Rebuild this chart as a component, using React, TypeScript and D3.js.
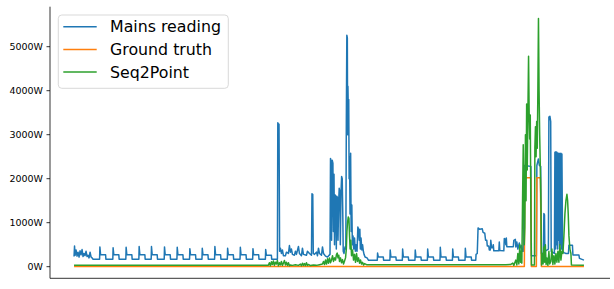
import { useEffect, useRef } from "react";
import * as d3 from "d3";

type Pt = [number, number]; // [sample, watts]

// ── Data ───────────────────────────────────────────────────────────────────

const yTicks = [0, 1000, 2000, 3000, 4000, 5000];
const seriesNames = ["Mains reading", "Ground truth", "Seq2Point"];
const seriesColors = ["#1f77b4", "#ff7f0e", "#2ca02c"];

const mains: Pt[] = [
  [0, 230], [0.5, 470], [1, 260], [2, 380], [3, 240], [4, 330], [5, 220], [6, 360],
  [7, 270], [8, 390], [9, 230], [10, 300], [11, 250], [12, 350], [13, 230], [14, 260],
  [15, 200], [16, 330], [17, 220], [18, 200], [19, 170], [25.5, 170],
  [25.8, 450], [26.5, 270], [31.5, 270], [31.8, 170], [38.7, 170],
  [39, 430], [39.7, 270], [44.7, 270], [45, 170], [51.7, 170],
  [52, 440], [52.7, 270], [57.7, 270], [58, 170], [64.7, 170],
  [65, 460], [65.7, 270], [70.7, 270], [71, 170], [77, 170],
  [77.3, 460], [78, 270], [83, 270], [83.3, 170], [90, 170],
  [90.3, 450], [91, 270], [96, 270], [96.3, 170], [102.7, 170],
  [103, 440], [103.7, 270], [108.7, 270], [109, 170], [115.3, 170],
  [115.6, 410], [116.3, 270], [121.3, 270], [121.6, 170], [127.7, 170],
  [128, 420], [128.7, 270], [133.7, 270], [134, 170], [140.3, 170],
  [140.6, 460], [141.3, 270], [146.3, 270], [146.6, 170], [153, 170],
  [153.3, 420], [154, 270], [159, 270], [159.3, 170], [165.7, 170],
  [166, 440], [166.7, 270], [171.7, 270], [172, 170], [178.3, 170],
  [178.6, 410], [179.3, 270], [184.3, 270], [184.6, 170], [191, 170],
  [191.3, 390], [192, 260], [197, 260], [197.3, 170], [203, 170],
  [203.4, 3270], [204.2, 3200], [204.6, 3240], [205.2, 350],
  [206, 420], [207, 300], [208, 380], [209, 250], [211, 250], [212, 330], [214, 300],
  [215, 480], [216, 330], [217, 400], [218, 280], [220, 260], [221, 350], [222, 280],
  [224, 460], [225, 300], [227, 250], [228, 420], [229, 280], [232, 260], [233, 350],
  [235, 300], [237, 260], [237.5, 1660], [238.3, 1640], [238.8, 300], [240, 280],
  [242, 330], [243, 250], [244, 420], [245, 300], [247, 260], [248, 450], [249, 300],
  [251, 240], [253, 220], [255.5, 280],
  [256, 2460], [256.6, 2380], [257.1, 600], [257.7, 2420], [258.4, 2350], [258.9, 800],
  [259.5, 2100], [260, 500], [260.6, 1630], [261.3, 1600], [261.8, 400], [262.4, 1600],
  [263, 1560], [263.5, 600], [264.1, 1450], [264.7, 1780], [265.3, 1700], [265.8, 500],
  [266.5, 1700], [267.1, 2050], [267.7, 2000], [268.2, 1300], [268.7, 350], [269.5, 300],
  [270.5, 450], [271.3, 400], [271.8, 3300], [272.3, 5260], [272.8, 5200], [273.1, 3000],
  [273.4, 4100], [273.8, 3500], [274.2, 3800], [274.6, 2000], [275, 2500], [275.5, 1200],
  [276.1, 2580], [276.6, 800], [277.3, 1400], [277.8, 500], [278.5, 700], [279.1, 400],
  [280, 650], [280.8, 350], [281.5, 500], [282.5, 350], [283.3, 900], [284, 850],
  [284.7, 600], [285.3, 850], [285.8, 400], [286.5, 650], [287.3, 380], [288, 500],
  [288.8, 350], [289.5, 280], [290.5, 220], [292.5, 200], [294, 145], [302.7, 145],
  [303, 310], [303.7, 220], [308.7, 220], [309, 145], [315.3, 145],
  [315.6, 380], [316.3, 220], [321.3, 220], [321.6, 145], [327.7, 145],
  [328, 400], [328.7, 220], [333.7, 220], [334, 145], [340.3, 145],
  [340.6, 380], [341.3, 220], [346.3, 220], [346.6, 145], [352.7, 145],
  [353, 400], [353.7, 220], [358.7, 220], [359, 145], [365.3, 145],
  [365.6, 440], [366.3, 220], [371.3, 220], [371.6, 145], [377.7, 145],
  [378, 400], [378.7, 220], [383.7, 220], [384, 145], [390.3, 145],
  [390.6, 420], [391.3, 220], [396.5, 220], [396.8, 145], [401, 145],
  [401.3, 280], [402.5, 300], [403.3, 880], [405, 850], [407.5, 860], [408.3, 780],
  [410, 760], [410.8, 600], [412, 600], [412.5, 470], [414, 470], [414.5, 380],
  [415.5, 380], [416, 600], [416.8, 430], [418, 430], [418.5, 500], [419, 360],
  [424, 360], [424.5, 560], [425, 370], [429, 360], [429.5, 640], [430.5, 620],
  [431, 500], [431.5, 650], [432, 455], [438.5, 455], [439, 600], [440.5, 620],
  [441, 450], [442, 560], [443, 400], [444.5, 540], [445, 420], [446.5, 480],
  [447.3, 350], [448.5, 350], [449.3, 2300], [456, 2280], [456.5, 250], [461.5, 250],
  [462, 2300], [463.5, 2450], [464.5, 2300], [465.8, 2280], [466.5, 300], [468.5, 300],
  [469, 1210], [469.6, 1180], [470, 350], [473.5, 400], [474, 3400], [475, 3420],
  [475.8, 3300], [476.3, 350], [479.5, 300], [480, 2600], [480.5, 400], [481, 2610],
  [481.5, 500], [482, 2600], [482.5, 400], [483, 2580], [483.5, 600], [484, 2580],
  [484.5, 400], [485, 2570], [485.5, 500], [486, 2580], [486.5, 400], [487, 2560],
  [487.7, 350], [489, 320], [491, 300], [493.5, 300], [494, 490], [497.5, 490],
  [498, 265], [504, 265], [504.5, 190], [509, 150],
];

const groundTruth: Pt[] = [
  [0, 5], [449.5, 5], [450, 2020], [456, 2020], [456.5, 5], [461.5, 5],
  [462, 2020], [465.5, 2020], [466.5, 5], [509, 5],
];

const seq2point: Pt[] = [
  [0, 35], [194, 35], [195, 90], [196, 20], [197, 110], [198, 50], [199, 130],
  [200, 30], [201, 100], [202, 60], [203, 140], [204, 20], [205, 90], [206, 40],
  [207, 120], [208, 30], [209, 80], [210, 140], [211, 40], [212, 100], [213, 30],
  [214, 90], [215, 20], [216, 40], [218, 30], [221, 45], [224, 30], [226, 60],
  [227, 20], [228, 80], [229, 30], [230, 70], [231, 25], [232, 90], [233, 30],
  [234, 50], [236, 25], [239, 40], [242, 30], [245, 45], [248, 60], [249, 120],
  [250, 50], [251, 150], [252, 60], [253, 180], [254, 80], [255, 200], [256, 90],
  [257, 150], [258, 250], [259, 120], [260, 200], [261, 150], [262, 280],
  [262.7, 310], [263.5, 200], [264.3, 260], [265, 120], [266, 200], [267, 90],
  [268, 160], [269, 60], [270, 130], [271, 200], [271.8, 400], [272.4, 800],
  [273, 1000], [273.7, 1130], [274.4, 1100], [275, 700], [275.6, 400], [276.3, 600],
  [277, 250], [278, 380], [279, 150], [280, 280], [281, 100], [282, 300], [283, 120],
  [284, 200], [285, 80], [286, 150], [287, 60], [288, 100], [289, 40], [290, 70],
  [292, 45], [431, 45], [436, 50], [438, 80], [439, 30], [441, 150], [442, 40],
  [443, 300], [444, 60], [445, 500], [445.7, 100], [446.3, 350], [447, 80],
  [447.7, 1500], [448.4, 2770], [449, 1800], [449.4, 500], [450, 900], [450.6, 3000],
  [451.2, 1500], [451.8, 3700], [452.4, 2200], [453, 3400], [453.7, 4780],
  [454.3, 3500], [454.8, 2900], [455.4, 3450], [456, 1290], [456.6, 40], [459.6, 40],
  [460, 2700], [460.6, 3180], [461.2, 2500], [461.8, 3300], [462.4, 2690],
  [463, 4000], [463.6, 5640], [464.2, 4000], [464.8, 3000], [465.4, 2300],
  [466, 1500], [466.7, 40], [467.5, 300], [468.2, 60], [469, 450], [469.8, 100],
  [470.5, 500], [471.2, 50], [472, 200], [473, 30], [474, 350], [474.8, 60],
  [476, 120], [477, 400], [478, 50], [479, 250], [480, 60], [481, 300], [482, 100],
  [483, 350], [484, 100], [485, 500], [486, 150], [487, 350], [488, 300], [489, 700],
  [490, 1200], [491, 1500], [492, 1645], [492.7, 1500], [493.3, 1200], [494, 700],
  [495, 400], [496, 300], [496.5, 40], [509, 30],
];

// ── Chart ─────────────────────────────────────────────────────────────────

export default function App() {
  const svgRef = useRef<SVGSVGElement>(null);
  const width = 614;
  const height = 289;

  useEffect(() => {
    if (!svgRef.current) return;
    const svg = d3.select(svgRef.current);
    svg.selectAll("*").remove();

    const left = 50, right = 610, top = 6.7, bottom = 278.3;

    const x = d3.scaleLinear().domain([-24, 535]).range([left, right]);
    const y = d3.scaleLinear().domain([-264, 5909]).range([bottom, top]);

    const line = d3.line<Pt>().x((d) => x(d[0])).y((d) => y(d[1]));

    [mains, groundTruth, seq2point].forEach((s, i) => {
      svg.append("path").datum(s)
        .attr("fill", "none")
        .attr("stroke", seriesColors[i])
        .attr("stroke-width", 1.5)
        .attr("stroke-linejoin", "round")
        .attr("d", line);
    });

    // ── Spines + y ticks ────────────────────────────────────────────────────
    svg.append("line")
      .attr("x1", left).attr("x2", left).attr("y1", top).attr("y2", bottom)
      .attr("stroke", "#000").attr("stroke-width", 0.8);
    svg.append("line")
      .attr("x1", left).attr("x2", right).attr("y1", bottom).attr("y2", bottom)
      .attr("stroke", "#000").attr("stroke-width", 0.8);

    const ticks = svg.append("g");
    yTicks.forEach((v) => {
      ticks.append("line")
        .attr("x1", left - 3.5).attr("x2", left)
        .attr("y1", y(v)).attr("y2", y(v))
        .attr("stroke", "#000").attr("stroke-width", 0.8);
      ticks.append("text")
        .attr("x", left - 7).attr("y", y(v))
        .attr("dy", "0.35em")
        .attr("text-anchor", "end")
        .attr("font-family", "DejaVu Sans")
        .attr("font-size", 9.5)
        .attr("fill", "#000")
        .text(`${v}W`);
    });

    // ── Legend ──────────────────────────────────────────────────────────────
    const lg = svg.append("g");
    lg.append("rect")
      .attr("x", 58.3).attr("y", 15).attr("width", 170).attr("height", 73.3)
      .attr("rx", 3.5)
      .attr("fill", "rgba(255,255,255,0.8)")
      .attr("stroke", "#d5d5d5").attr("stroke-width", 0.9);
    seriesNames.forEach((name, i) => {
      const ly = 26.7 + i * 22.7;
      lg.append("line")
        .attr("x1", 63.3).attr("x2", 96.7).attr("y1", ly).attr("y2", ly)
        .attr("stroke", seriesColors[i]).attr("stroke-width", 1.5);
      lg.append("text")
        .attr("x", 110).attr("y", ly).attr("dy", "0.36em")
        .attr("font-family", "DejaVu Sans")
        .attr("font-size", 15.8)
        .attr("fill", "#000")
        .text(name);
    });
  }, []);

  return (
    <div style={{ position: "fixed", left: 0, top: 0, background: "#fff" }}>
      <svg ref={svgRef} width={width} height={height} style={{ display: "block" }} />
    </div>
  );
}
